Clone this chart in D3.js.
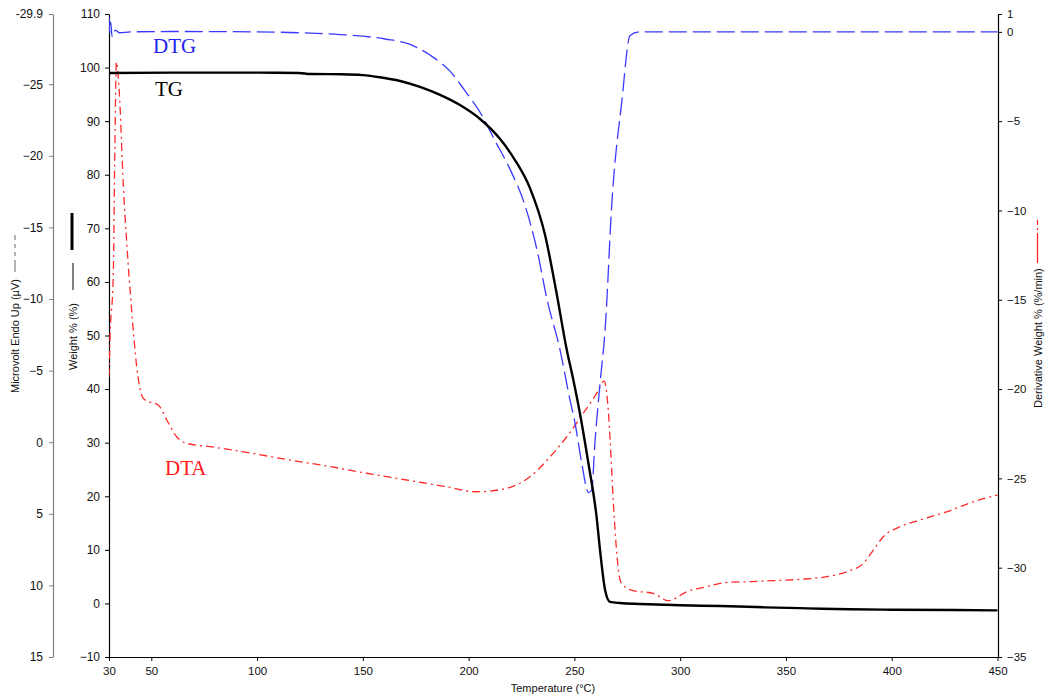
<!DOCTYPE html>
<html><head><meta charset="utf-8">
<script src="https://cdn.jsdelivr.net/npm/d3@7"></script>
<style>body{margin:0;background:#fff;} svg text{font-family:"Liberation Sans",Arial,sans-serif;}</style>
</head><body>
<svg id="c" width="1045" height="700"></svg>
<script>
// ---- tick values ----
const tempTicks = [30, 50, 100, 150, 200, 250, 300, 350, 400, 450];
const weightTicks = [-10, 0, 10, 20, 30, 40, 50, 60, 70, 80, 90, 100, 110];
const microTicks = [-29.9, -25, -20, -15, -10, -5, 0, 5, 10, 15];
const derivTicks = [1, 0, -5, -10, -15, -20, -25, -30, -35];

// ---- TG (Weight %) ----
const tgTemp   = [30, 60, 100, 120, 125, 140, 150, 158.1, 167.6, 177.0, 186.5, 195.9, 205.4, 214.8, 221.9, 229.0, 236.1, 241.3, 246.4, 249.5, 252.6, 256.6, 260.5, 262.1, 264.5, 266.8, 271.6, 281, 300, 319, 340, 360, 380, 400, 430, 450];
const tgWeight = [99.0, 99.05, 99.05, 99.0, 98.8, 98.75, 98.6, 98.2, 97.5, 96.4, 94.9, 93.0, 90.4, 86.7, 82.75, 77.5, 68.8, 58.5, 47.3, 41.7, 35.5, 26.2, 16.1, 10.0, 2.5, 0.3, 0.07, -0.1, -0.35, -0.49, -0.73, -0.92, -1.1, -1.18, -1.24, -1.3];

// ---- DTG (Derivative Weight %/min) ----
const dtgTemp  = [30, 30.3, 30.8, 31.5, 33, 35, 40, 60, 100, 120, 139.2, 160.5, 172.3, 181.7, 191.2, 198.3, 205.4, 212.5, 219.6, 226.6, 232.3, 237.1, 243.2, 247.9, 250.3, 253.4, 256.7, 258.2, 259.7, 262.1, 264.5, 267.8, 272.5, 276.3, 281, 350, 400, 450];
const dtgDeriv = [0.83, -0.06, 0.55, -0.29, 0.1, -0.05, 0.0, 0.02, 0.0, -0.05, -0.15, -0.4, -0.7, -1.3, -2.2, -3.3, -4.5, -6.1, -7.7, -9.7, -12.2, -15.0, -17.8, -20.6, -21.9, -24.1, -25.8, -25.65, -23.0, -19.7, -16.7, -9.4, -3.8, -0.2, 0.0, 0.0, 0.0, 0.0];

// ---- DTA (Microvolt Endo Up) ----
const dtaTemp  = [30, 30.5, 32.0, 32.8, 33.5, 34.9, 36.8, 38.4, 40.7, 43.1, 46.2, 49.4, 53.3, 57.3, 62.0, 66.7, 77.7, 93.5, 115.6, 132.9, 151.8, 170.7, 189.6, 203.8, 218.0, 229.0, 238.5, 246.4, 254.2, 260.5, 264.0, 266.0, 266.8, 268.4, 270.1, 271.6, 273.4, 277.8, 287.3, 294.4, 303.1, 312.5, 322.0, 333.0, 344.0, 356.2, 369.3, 378.7, 386.6, 391.3, 396.0, 403.9, 413.4, 426.0, 438.6, 450];
const dtaMicro = [-4.57, -7.36, -11.56, -20.87, -26.55, -24.36, -17.84, -13.89, -9.23, -5.27, -3.06, -2.8, -2.6, -1.55, -0.38, 0.08, 0.31, 0.67, 1.25, 1.66, 2.17, 2.64, 3.11, 3.46, 3.22, 2.41, 1.02, -0.38, -2.02, -3.41, -4.27, -2.25, -0.38, 4.18, 7.88, 9.63, 10.04, 10.37, 10.55, 11.07, 10.44, 10.09, 9.79, 9.74, 9.67, 9.58, 9.39, 9.05, 8.46, 7.53, 6.60, 5.90, 5.43, 4.86, 4.16, 3.69];

const svg = d3.select("#c");
const x  = d3.scaleLinear().domain([30, 450]).range([109, 997.5]);
const yW = d3.scaleLinear().domain([-10, 110]).range([657, 14]);
const yM = d3.scaleLinear().domain([15, -29.9]).range([657, 14]);
const yD = d3.scaleLinear().domain([-35, 1]).range([657, 14]);

function styleAxis(g, color, fs) {
  g.selectAll("path.domain").attr("stroke", color).attr("stroke-width", 1.2);
  g.selectAll(".tick line").attr("stroke", color);
  g.selectAll(".tick text").attr("fill", "#111").style("font-size", fs);
}

// Microvolt axis (gray)
svg.append("g").attr("transform", "translate(53,0)")
  .call(d3.axisLeft(yM).tickValues(microTicks).tickFormat(d => d === -29.9 ? "-29.9" : d3.format("d")(d)).tickSize(4).tickSizeOuter(0).tickPadding(6))
  .call(g => styleAxis(g, "#808080", "12px"));

// Weight axis
svg.append("g").attr("transform", "translate(109,0)")
  .call(d3.axisLeft(yW).tickValues(weightTicks).tickFormat(d3.format("d")).tickSize(4).tickSizeOuter(0).tickPadding(5))
  .call(g => styleAxis(g, "#000", "12px"));

// Derivative axis (right)
svg.append("g").attr("transform", "translate(998,0)")
  .call(d3.axisRight(yD).tickValues(derivTicks).tickFormat(d3.format("d")).tickSize(4).tickSizeOuter(0).tickPadding(5))
  .call(g => styleAxis(g, "#000", "11.5px"));

// Temperature axis
svg.append("g").attr("transform", "translate(0,657)")
  .call(d3.axisBottom(x).tickValues(tempTicks).tickFormat(d3.format("d")).tickSize(4).tickSizeOuter(0).tickPadding(6))
  .call(g => styleAxis(g, "#000", "11.5px"));

// clip
svg.append("clipPath").attr("id", "clip").append("rect")
  .attr("x", 109).attr("y", 10).attr("width", 889).attr("height", 647);

const plot = svg.append("g").attr("clip-path", "url(#clip)");

const lineDTA = d3.line().x((d, i) => x(dtaTemp[i])).y(d => yM(d)).curve(d3.curveMonotoneX);
const lineDTG = d3.line().x((d, i) => x(dtgTemp[i])).y(d => yD(d)).curve(d3.curveMonotoneX);
const lineTG  = d3.line().x((d, i) => x(tgTemp[i])).y(d => yW(d)).curve(d3.curveMonotoneX);

plot.append("path").attr("d", lineDTA(dtaMicro))
  .attr("fill", "none").attr("stroke", "#ff2a2a").attr("stroke-width", 1.3)
  .attr("stroke-dasharray", "8,4,2,4");
plot.append("path").attr("d", lineDTG(dtgDeriv))
  .attr("fill", "none").attr("stroke", "#3a3aff").attr("stroke-width", 1.3)
  .attr("stroke-dasharray", "18,6");
plot.append("path").attr("d", lineTG(tgWeight))
  .attr("fill", "none").attr("stroke", "#000").attr("stroke-width", 2.4);

// curve labels
const serif = '"Liberation Serif","Times New Roman",serif';
svg.append("text").attr("x", 153).attr("y", 53).text("DTG")
  .style("font-family", serif).style("font-size", "21px").attr("fill", "#2222ee");
svg.append("text").attr("x", 155).attr("y", 96).text("TG")
  .style("font-family", serif).style("font-size", "21px").attr("fill", "#000");
svg.append("text").attr("x", 165).attr("y", 475).text("DTA")
  .style("font-family", serif).style("font-size", "21px").attr("fill", "#ff1a1a");

// axis titles
svg.append("text").attr("x", 553).attr("y", 692).attr("text-anchor", "middle")
  .style("font-size", "11px").attr("fill", "#111").text("Temperature (°C)");

svg.append("text").attr("transform", "translate(19,393) rotate(-90)")
  .style("font-size", "11px").attr("fill", "#111").text("Microvolt Endo Up (µV)");
svg.append("line").attr("x1", 15).attr("x2", 15).attr("y1", 272).attr("y2", 235)
  .attr("stroke", "#666").attr("stroke-width", 1).attr("stroke-dasharray", "12,4,4,4,4,4");

svg.append("text").attr("transform", "translate(77,370) rotate(-90)")
  .style("font-size", "11px").attr("fill", "#111").text("Weight % (%)");
svg.append("line").attr("x1", 73).attr("x2", 73).attr("y1", 290).attr("y2", 263)
  .attr("stroke", "#000").attr("stroke-width", 1);
svg.append("line").attr("x1", 72).attr("x2", 72).attr("y1", 250).attr("y2", 213)
  .attr("stroke", "#000").attr("stroke-width", 3);

svg.append("text").attr("transform", "translate(1042,408) rotate(-90)")
  .style("font-size", "11px").attr("fill", "#111").text("Derivative Weight % (%/min)");
svg.append("line").attr("x1", 1037.5).attr("x2", 1037.5).attr("y1", 263).attr("y2", 220)
  .attr("stroke", "#ff1a1a").attr("stroke-width", 1.2).attr("stroke-dasharray", "30,3,2,3");
</script>
</body></html>
